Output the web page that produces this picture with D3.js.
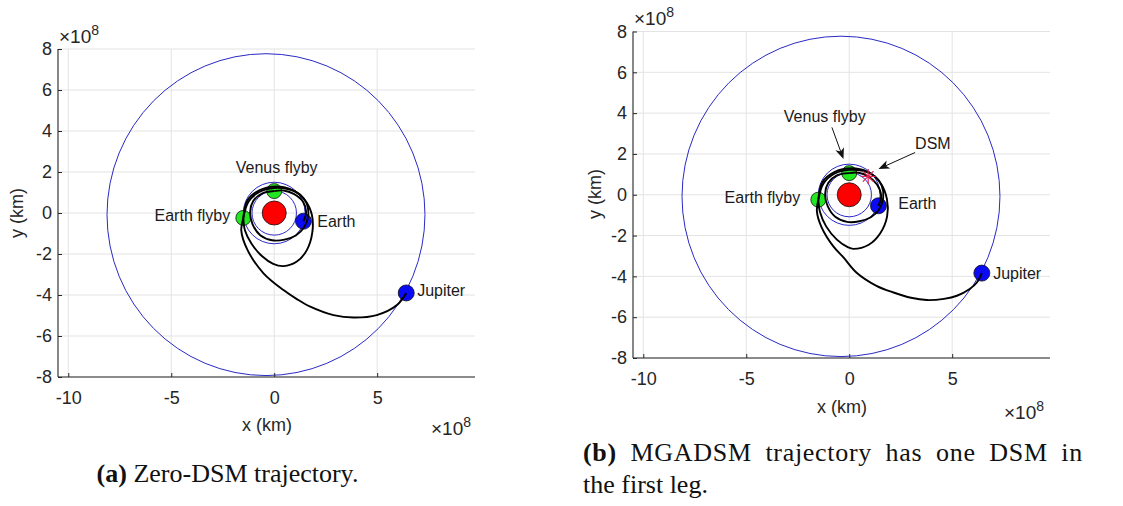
<!DOCTYPE html>
<html>
<head>
<meta charset="utf-8">
<script src="https://cdn.jsdelivr.net/npm/d3@7"></script>
<style>
  html, body { margin: 0; padding: 0; background: #fff; }
  svg { display: block; }
</style>
</head>
<body>
<svg id="fig" width="1123" height="506"></svg>
<script>
// ---- Axis ticks shared by both panels (units of 1e8 km) ----
const xTicks = [-10, -5, 0, 5];
const yTicks = [-8, -6, -4, -2, 0, 2, 4, 6, 8];
const xDomain = [-10.5, 9.75];
const yDomain = [-8, 8];

// ---- Planetary orbits (1e8 km) ----
const venusOrbitRadius = 1.08;
const earthOrbitRadius = 1.5;
const jupiterOrbitCenter = [-0.4, -0.08];
const jupiterOrbitRadii = [7.72, 7.85];

// ---- Panel (a): zero-DSM trajectory ----
const aSun = [0, 0];
const aEarth = [1.42, -0.4];
const aVenusFlyby = [0, 1.07];
const aEarthFlyby = [-1.5, -0.24];
const aJupiter = [6.41, -3.9];
const aLegEarthVenus = [[1.42, -0.4], [1.55, 0.05], [1.4, 0.55], [0.95, 0.93], [0.45, 1.1], [0, 1.07]];
const aLegVenusEarth = [[0, 1.07], [-0.6, 0.95], [-1.02, 0.58], [-1.17, 0.05], [-1.05, -0.55], [-0.68, -1.08],
  [-0.1, -1.33], [0.5, -1.3], [1.05, -1.1], [1.45, -0.7], [1.65, -0.15], [1.58, 0.45], [1.25, 0.9],
  [0.65, 1.17], [0, 1.22], [-0.7, 1.04], [-1.25, 0.55], [-1.5, -0.24]];
const aLegEarthEarth = [[-1.5, -0.24], [-1.42, -0.85], [-1.1, -1.5], [-0.6, -2.1], [-0.05, -2.48], [0.45, -2.59],
  [1.1, -2.37], [1.59, -1.8], [1.85, -0.95], [1.83, -0.1], [1.5, 0.62], [0.9, 1.12], [0.1, 1.3],
  [-0.7, 1.12], [-1.3, 0.62], [-1.5, -0.24]];
const aLegEarthJupiter = [[-1.5, -0.24], [-1.6, -0.85], [-1.3, -1.8], [-0.52, -2.94], [0.45, -3.76], [1.1, -4.2],
  [1.75, -4.57], [2.88, -4.98], [3.85, -5.1], [4.98, -4.98], [5.96, -4.49], [6.41, -3.9]];

// ---- Panel (b): MGADSM trajectory with one deep-space manoeuvre ----
const bSun = [0, 0];
const bEarth = [1.42, -0.54];
const bVenusFlyby = [0, 1.06];
const bEarthFlyby = [-1.5, -0.24];
const bJupiter = [6.44, -3.84];
const bDSM = [0.92, 0.9];
const bLegEarthVenus = [[1.42, -0.54], [1.55, -0.05], [1.35, 0.5], [0.92, 0.9], [0.45, 1.08], [0, 1.06]];
const bLegVenusEarth = [[0, 1.06], [-0.6, 0.95], [-1.02, 0.58], [-1.17, 0.05], [-1.05, -0.55], [-0.68, -1.08],
  [-0.1, -1.33], [0.5, -1.3], [1.05, -1.1], [1.45, -0.72], [1.65, -0.15], [1.58, 0.45], [1.25, 0.9],
  [0.65, 1.17], [0, 1.22], [-0.7, 1.04], [-1.25, 0.55], [-1.5, -0.24]];
const bLegEarthEarth = [[-1.5, -0.24], [-1.42, -0.85], [-1.12, -1.55], [-0.6, -2.2], [-0.05, -2.58], [0.2, -2.65],
  [0.95, -2.45], [1.5, -1.9], [1.84, -1.06], [1.83, -0.2], [1.5, 0.6], [0.9, 1.12], [0.1, 1.3],
  [-0.7, 1.12], [-1.3, 0.62], [-1.5, -0.24]];
const bLegEarthJupiter = [[-1.5, -0.24], [-1.57, -0.8], [-1.34, -1.6], [-0.78, -2.52], [-0.28, -3.07], [0.36, -3.82],
  [1.3, -4.45], [2.15, -4.79], [3.0, -5.05], [3.77, -5.16], [4.6, -5.1], [5.23, -4.95], [5.85, -4.62],
  [6.2, -4.3], [6.44, -3.84]];

// ---- Text labels (position in 1e8 km, anchor) ----
const aLabels = [
  ["Venus flyby", 0.12, 1.95, "middle"],
  ["Earth flyby", -2.14, -0.39, "end"],
  ["Earth", 2.09, -0.68, "start"],
  ["Jupiter", 6.94, -4.05, "start"]
];
const bLabels = [
  ["Venus flyby", -1.19, 3.58, "middle"],
  ["DSM", 3.2, 2.25, "start"],
  ["Earth flyby", -2.38, -0.39, "end"],
  ["Earth", 2.38, -0.69, "start"],
  ["Jupiter", 6.99, -4.12, "start"]
];
// Annotation arrows: [from, to] in 1e8 km
const bArrows = [
  [[-0.84, 3.3], [-0.28, 1.75]],
  [[3.2, 2.07], [1.42, 1.26]]
];

// ---- Styling ----
const SANS = '"Liberation Sans", Arial, Helvetica, sans-serif';
const SERIF = '"Liberation Serif", "Times New Roman", serif';
const AXIS_COLOR = '#262626';
const GRID_COLOR = '#e3e3e3';
const ORBIT_COLOR = '#2a2ac6';

const svg = d3.select('#fig');

function drawPanel(cfg) {
  const g = svg.append('g');
  const x = d3.scaleLinear().domain(xDomain).range([cfg.left, cfg.right]);
  const y = d3.scaleLinear().domain(yDomain).range([cfg.bottom, cfg.top]);

  // grid
  g.append('g').selectAll('line').data(xTicks).join('line')
    .attr('x1', d => x(d)).attr('x2', d => x(d))
    .attr('y1', cfg.top).attr('y2', cfg.bottom)
    .attr('stroke', GRID_COLOR).attr('stroke-width', 1);
  g.append('g').selectAll('line').data(yTicks).join('line')
    .attr('x1', cfg.left).attr('x2', cfg.right)
    .attr('y1', d => y(d)).attr('y2', d => y(d))
    .attr('stroke', GRID_COLOR).attr('stroke-width', 1);

  // orbits
  const orbits = g.append('g').attr('fill', 'none').attr('stroke', ORBIT_COLOR).attr('stroke-width', 1);
  orbits.append('ellipse')
    .attr('cx', x(jupiterOrbitCenter[0])).attr('cy', y(jupiterOrbitCenter[1]))
    .attr('rx', x(jupiterOrbitCenter[0] + jupiterOrbitRadii[0]) - x(jupiterOrbitCenter[0]))
    .attr('ry', y(jupiterOrbitCenter[1]) - y(jupiterOrbitCenter[1] + jupiterOrbitRadii[1]));
  [venusOrbitRadius, earthOrbitRadius].forEach(r => {
    orbits.append('ellipse')
      .attr('cx', x(0)).attr('cy', y(0))
      .attr('rx', x(r) - x(0)).attr('ry', y(0) - y(r));
  });

  // bodies
  const marker = (p, r, fill) => g.append('circle')
    .attr('cx', x(p[0])).attr('cy', y(p[1])).attr('r', r)
    .attr('fill', fill).attr('stroke', '#111').attr('stroke-width', 0.8);
  marker(cfg.sun, 12, '#ff0000');
  marker(cfg.venusFlyby, 7.5, '#22e622');
  marker(cfg.earthFlyby, 7.5, '#22e622');
  marker(cfg.earth, 8, '#0a0af5');
  marker(cfg.jupiter, 8, '#0a0af5');

  // trajectory legs
  const line = d3.line().x(d => x(d[0])).y(d => y(d[1])).curve(d3.curveCatmullRom.alpha(0.5));
  g.append('g').attr('fill', 'none').attr('stroke', '#000').attr('stroke-width', 1.9)
    .attr('stroke-linejoin', 'round')
    .selectAll('path').data(cfg.legs).join('path').attr('d', line);

  // deep-space manoeuvre marker
  if (cfg.dsm) {
    const cx = x(cfg.dsm[0]), cy = y(cfg.dsm[1]), s = 7.5;
    const star = g.append('g').attr('stroke', '#e0204e').attr('stroke-width', 1.2);
    [0, 45, 90, 135].forEach(a => {
      const t = a * Math.PI / 180;
      star.append('line')
        .attr('x1', cx - s * Math.cos(t)).attr('y1', cy - s * Math.sin(t))
        .attr('x2', cx + s * Math.cos(t)).attr('y2', cy + s * Math.sin(t));
    });
  }

  // annotation arrows
  (cfg.arrows || []).forEach(([from, to]) => {
    const x1 = x(from[0]), y1 = y(from[1]), x2 = x(to[0]), y2 = y(to[1]);
    const ang = Math.atan2(y2 - y1, x2 - x1);
    const L = 11, W = 4.5, back = 3;
    const ux = Math.cos(ang), uy = Math.sin(ang);
    const bx = x2 - ux * L, by = y2 - uy * L;
    g.append('line').attr('x1', x1).attr('y1', y1).attr('x2', x2 - ux * 4).attr('y2', y2 - uy * 4)
      .attr('stroke', '#111').attr('stroke-width', 1);
    g.append('path')
      .attr('d', `M${x2},${y2} L${bx - uy * W},${by + ux * W} L${x2 - ux * (L - back)},${y2 - uy * (L - back)} L${bx + uy * W},${by - ux * W} Z`)
      .attr('fill', '#111');
  });

  // labels
  g.append('g').attr('font-family', SANS).attr('font-size', 16).attr('fill', '#1a1a1a')
    .selectAll('text').data(cfg.labels).join('text')
    .attr('x', d => x(d[1])).attr('y', d => y(d[2]))
    .attr('text-anchor', d => d[3]).text(d => d[0]);

  // axes
  const fmt = d => String(d);
  const xa = g.append('g').attr('transform', `translate(0,${cfg.bottom})`)
    .call(d3.axisBottom(x).tickValues(xTicks).tickSizeInner(-4).tickSizeOuter(0).tickPadding(14).tickFormat(fmt));
  const ya = g.append('g').attr('transform', `translate(${cfg.left},0)`)
    .call(d3.axisLeft(y).tickValues(yTicks).tickSizeInner(-4).tickSizeOuter(0).tickPadding(6).tickFormat(fmt));
  [xa, ya].forEach(a => {
    a.attr('font-family', SANS).attr('font-size', 18);
    a.selectAll('path.domain').attr('stroke', AXIS_COLOR).attr('stroke-width', 1.1);
    a.selectAll('.tick line').attr('stroke', AXIS_COLOR);
    a.selectAll('.tick text').attr('fill', AXIS_COLOR);
  });
  // the domain line spans the full panel width
  xa.select('path.domain').attr('d', `M${cfg.left},0H${cfg.right}`);
  ya.select('path.domain').attr('d', `M0,${cfg.top}V${cfg.bottom}`);

  // axis titles
  g.append('text').attr('x', cfg.xTitle[0]).attr('y', cfg.xTitle[1])
    .attr('text-anchor', 'middle').attr('font-family', SANS).attr('font-size', 18)
    .attr('fill', AXIS_COLOR).text('x (km)');
  g.append('text').attr('transform', `translate(${cfg.yTitle[0]},${cfg.yTitle[1]}) rotate(-90)`)
    .attr('text-anchor', 'middle').attr('font-family', SANS).attr('font-size', 18)
    .attr('fill', AXIS_COLOR).text('y (km)');

  // exponent labels
  const expo = (pos) => {
    const t = g.append('text').attr('x', pos[0]).attr('y', pos[1])
      .attr('font-family', SANS).attr('font-size', 19).attr('fill', AXIS_COLOR);
    t.append('tspan').text('\u00d710');
    t.append('tspan').attr('font-size', 14).attr('dy', -8).text('8');
  };
  expo(cfg.expTop);
  expo(cfg.expBottom);
}

drawPanel({
  left: 58, right: 475, top: 49, bottom: 377,
  sun: aSun, earth: aEarth, venusFlyby: aVenusFlyby, earthFlyby: aEarthFlyby, jupiter: aJupiter,
  legs: [aLegEarthVenus, aLegVenusEarth, aLegEarthEarth, aLegEarthJupiter],
  labels: aLabels,
  xTitle: [267, 431], yTitle: [23, 213],
  expTop: [59, 43], expBottom: [431, 435]
});

drawPanel({
  left: 633, right: 1050, top: 31.5, bottom: 358,
  sun: bSun, earth: bEarth, venusFlyby: bVenusFlyby, earthFlyby: bEarthFlyby, jupiter: bJupiter,
  dsm: bDSM,
  legs: [bLegEarthVenus, bLegVenusEarth, bLegEarthEarth, bLegEarthJupiter],
  labels: bLabels, arrows: bArrows,
  xTitle: [842, 413], yTitle: [601, 194],
  expTop: [634, 25], expBottom: [1004, 419]
});

// ---- Captions ----
const capA = svg.append('text').attr('x', 227.5).attr('y', 482).attr('text-anchor', 'middle')
  .attr('font-family', SERIF).attr('font-size', 26).attr('fill', '#111');
capA.append('tspan').attr('font-weight', 'bold').text('(a)');
capA.append('tspan').text(' Zero-DSM trajectory.');

const capB1 = svg.append('text').attr('x', 583).attr('y', 461)
  .attr('font-family', SERIF).attr('font-size', 26).attr('fill', '#111')
  .attr('letter-spacing', 0.7);
capB1.append('tspan').attr('font-weight', 'bold').text('(b)');
capB1.append('tspan').text(' MGADSM trajectory has one DSM in');
// justify the first caption line to the text block width
const natural = capB1.node().getComputedTextLength();
capB1.attr('word-spacing', Math.max(0, (500 - natural) / 6));

svg.append('text').attr('x', 583).attr('y', 493)
  .attr('font-family', SERIF).attr('font-size', 26).attr('fill', '#111')
  .text('the first leg.');
</script>
</body>
</html>
